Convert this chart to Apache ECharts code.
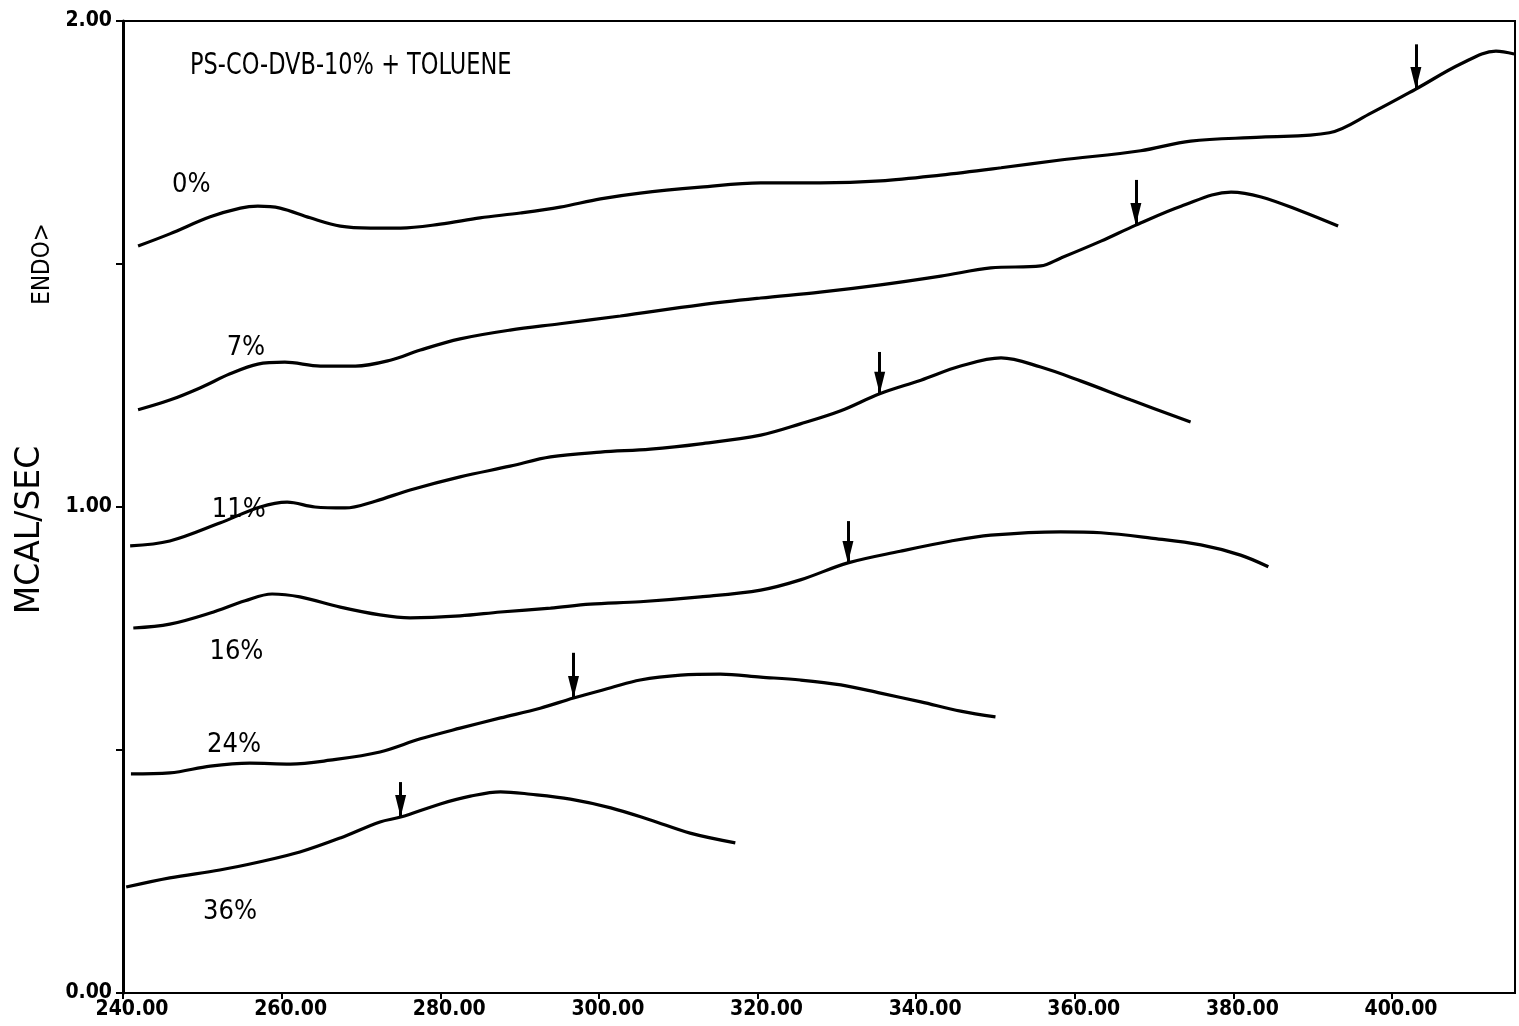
<!DOCTYPE html>
<html>
<head>
<meta charset="utf-8">
<script src="https://cdn.jsdelivr.net/npm/echarts@6/dist/echarts.min.js"></script>
<style>
  html, body { margin: 0; padding: 0; background: #ffffff; }
  #chart { width: 1519px; height: 1026px; }
</style>
</head>
<body>
<div id="chart"></div>
<script>
// DSC scans: heat flow (mcal/sec) vs temperature, one trace per toluene content
const chartTitle = 'PS-CO-DVB-10% + TOLUENE';
const yAxisTitle = 'MCAL/SEC';
const endoTitle = 'ENDO>';
const tempMin = 240, tempMax = 415.5, tempStep = 20;
const flowMin = 0, flowMax = 2, flowStep = 0.5;
const flowLabelValues = [0, 1, 2];

const traceNames = ['0%', '7%', '11%', '16%', '24%', '36%'];

const trace0 = [
  [241.9, 1.537], [245.9, 1.562], [251.0, 1.597], [254.8, 1.615], [257.0, 1.619],
  [259.8, 1.615], [263.6, 1.595], [267.4, 1.578], [271.2, 1.574], [275.0, 1.574],
  [280.0, 1.582], [285.0, 1.595], [290.1, 1.605], [295.1, 1.617], [300.2, 1.634],
  [305.2, 1.646], [312.8, 1.658], [320.4, 1.667], [327.9, 1.667], [335.5, 1.671],
  [343.1, 1.683], [350.7, 1.698], [358.2, 1.714], [368.3, 1.733], [374.6, 1.753],
  [383.5, 1.761], [392.1, 1.770], [397.4, 1.811], [403.0, 1.860], [408.7, 1.912],
  [413.1, 1.938], [415.4, 1.932]
];
const trace7 = [
  [241.9, 1.200], [245.9, 1.220], [249.7, 1.245], [253.5, 1.274], [257.0, 1.294],
  [260.4, 1.298], [264.9, 1.290], [269.3, 1.290], [273.7, 1.302], [277.5, 1.323],
  [282.5, 1.346], [288.8, 1.364], [295.1, 1.377], [302.7, 1.393], [312.8, 1.416],
  [320.4, 1.430], [327.9, 1.442], [335.5, 1.457], [343.1, 1.475], [349.4, 1.492],
  [355.7, 1.496], [358.2, 1.512], [363.3, 1.547], [367.7, 1.580], [373.4, 1.619],
  [379.7, 1.648], [383.5, 1.638], [388.5, 1.609], [393.2, 1.578]
];
const trace11 = [
  [240.9, 0.920], [245.9, 0.930], [252.2, 0.967], [257.3, 1.000], [260.7, 1.010],
  [264.2, 1.000], [268.0, 0.998], [271.8, 1.012], [276.2, 1.035], [282.5, 1.062],
  [288.8, 1.084], [293.9, 1.103], [300.2, 1.113], [306.5, 1.119], [312.8, 1.130],
  [320.4, 1.148], [325.4, 1.171], [330.5, 1.198], [335.4, 1.233], [340.6, 1.261],
  [345.6, 1.290], [350.7, 1.307], [355.7, 1.288], [360.8, 1.259], [367.1, 1.220],
  [374.6, 1.175]
];
const trace16 = [
  [241.3, 0.751], [245.9, 0.759], [251.0, 0.782], [255.4, 0.807], [258.8, 0.821],
  [262.3, 0.815], [267.4, 0.794], [272.4, 0.778], [276.2, 0.772], [282.5, 0.776],
  [287.6, 0.784], [293.9, 0.792], [298.9, 0.800], [305.2, 0.805], [312.8, 0.815],
  [320.4, 0.829], [325.4, 0.850], [331.4, 0.885], [338.0, 0.909], [344.4, 0.930],
  [349.4, 0.942], [358.2, 0.949], [363.3, 0.947], [369.6, 0.936], [375.9, 0.922],
  [380.9, 0.901], [384.4, 0.877]
];
const trace24 = [
  [241.0, 0.451], [245.9, 0.453], [251.0, 0.467], [256.0, 0.473], [261.1, 0.471],
  [266.1, 0.479], [272.4, 0.496], [277.5, 0.523], [282.5, 0.545], [287.6, 0.566],
  [292.6, 0.586], [296.8, 0.607], [301.5, 0.628], [305.2, 0.644], [310.3, 0.654],
  [315.3, 0.656], [320.4, 0.650], [325.4, 0.644], [330.5, 0.634], [335.5, 0.617],
  [340.6, 0.599], [345.6, 0.580], [350.0, 0.568]
];
const trace36 = [
  [240.4, 0.218], [245.9, 0.237], [252.2, 0.253], [257.3, 0.270], [262.3, 0.290],
  [267.4, 0.319], [272.4, 0.352], [275.0, 0.362], [280.0, 0.389], [283.8, 0.405],
  [287.6, 0.414], [291.4, 0.409], [296.4, 0.399], [301.5, 0.381], [306.5, 0.356],
  [311.5, 0.329], [317.2, 0.309]
];
const traces = [trace0, trace7, trace11, trace16, trace24, trace36];

// where each trace's composition label sits: [temperature, flow]
const traceLabelAt = [
  [248.6, 1.663], [255.5, 1.327], [254.6, 0.994], [254.3, 0.702], [254.0, 0.510], [253.5, 0.167]
];

// transition markers: [temperature, flow at arrow tip, flow at arrow tail]
const transitionArrows = [
  [403.0, 1.860, 1.952], [367.7, 1.580, 1.673], [335.4, 1.233, 1.319],
  [331.4, 0.885, 0.971], [296.8, 0.607, 0.700], [275.0, 0.362, 0.434]
];

const ink = '#000000';
const plotFont = '"DejaVu Sans Condensed", "Liberation Sans Narrow", sans-serif';

const chart = echarts.init(document.getElementById('chart'), null, { renderer: 'canvas' });

const series = traces.map((pts, i) => ({
  name: traceNames[i],
  type: 'line',
  data: pts,
  showSymbol: false,
  smooth: 0.35,
  lineStyle: { color: ink, width: 3.2 },
  silent: true,
  markLine: {
    silent: true,
    symbol: ['none', 'triangle'],
    symbolSize: 16,
    label: { show: false },
    itemStyle: { color: ink },
    lineStyle: { color: ink, width: 3, type: 'solid' },
    data: [[
      { coord: [transitionArrows[i][0], transitionArrows[i][2]], symbol: 'none' },
      {
        coord: [transitionArrows[i][0], transitionArrows[i][1]],
        symbol: 'triangle', symbolSize: [11, 22], symbolOffset: [0, '50%']
      }
    ]]
  }
}));

series.push({
  type: 'scatter',
  data: traceLabelAt.map((p, i) => [p[0], p[1], traceNames[i]]),
  symbolSize: 0,
  silent: true,
  itemStyle: { opacity: 1, color: ink },
  label: {
    show: true,
    position: 'inside',
    formatter: p => p.data[2],
    color: ink,
    textBorderWidth: 0,
    fontFamily: plotFont,
    fontSize: 27
  }
});

chart.setOption({
  animation: false,
  backgroundColor: '#ffffff',
  grid: {
    left: 123, right: 4, top: 21, bottom: 33,
    show: true, borderColor: ink, borderWidth: 2
  },
  xAxis: {
    type: 'value', min: tempMin, max: tempMax, interval: tempStep,
    splitLine: { show: false },
    axisLine: { show: true, lineStyle: { color: ink, width: 2 } },
    axisTick: { show: true, length: 6, lineStyle: { color: ink, width: 2 } },
    axisLabel: {
      show: true, margin: 6, padding: [0, 0, 0, 18],
      color: ink, fontFamily: plotFont, fontWeight: 'bold', fontSize: 21,
      showMaxLabel: false,
      formatter: v => (Math.abs(v % tempStep) < 1e-9 ? v.toFixed(2) : '')
    }
  },
  yAxis: {
    type: 'value', min: flowMin, max: flowMax, interval: flowStep,
    splitLine: { show: false },
    axisLine: { show: true, lineStyle: { color: ink, width: 3 } },
    axisTick: { show: true, length: 7, lineStyle: { color: ink, width: 2 } },
    axisLabel: {
      show: true, margin: 11,
      color: ink, fontFamily: plotFont, fontWeight: 'bold', fontSize: 21,
      formatter: v => (flowLabelValues.some(t => Math.abs(t - v) < 1e-9) ? v.toFixed(2) : '')
    }
  },
  graphic: [
    {
      type: 'text', x: 190, y: 66, scaleY: 1.2,
      style: { text: chartTitle, fill: ink, verticalAlign: 'middle', font: '25px ' + plotFont }
    },
    {
      type: 'text', x: 30, y: 530, rotation: Math.PI / 2,
      style: {
        text: yAxisTitle, fill: ink, align: 'center', verticalAlign: 'middle',
        font: '33px "DejaVu Sans", sans-serif'
      }
    },
    {
      type: 'text', x: 43, y: 264, rotation: Math.PI / 2,
      style: {
        text: endoTitle, fill: ink, align: 'center', verticalAlign: 'middle',
        font: '24px ' + plotFont
      }
    }
  ],
  series: series
});
</script>
</body>
</html>
